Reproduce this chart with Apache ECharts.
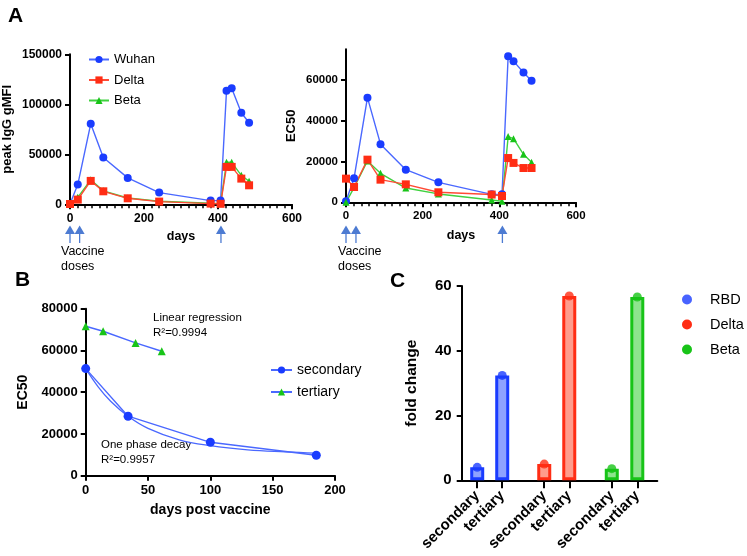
<!DOCTYPE html>
<html>
<head>
<meta charset="utf-8">
<script src="https://cdn.jsdelivr.net/npm/echarts@6/dist/echarts.min.js"></script>
<style>html,body{margin:0;padding:0;background:#fff}#c{width:747px;height:556px}</style>
</head>
<body>
<div id="c"></div>
<script>
// ---------- data ----------
const days = [0, 21, 56, 90, 156, 241, 380, 407, 423, 437, 463, 484];
const iggWuhan = [300, 19700, 80500, 46800, 26400, 11700, 3700, 3700, 113600, 116000, 91500, 81500];
const iggDelta = [300, 4700, 23400, 13000, 6000, 2700, 700, 500, 37400, 37400, 25700, 19000];
const iggBeta  = [300, 7000, 24500, 13500, 6300, 3000, 1000, 700, 42000, 42000, 29000, 23000];
const ecWuhan  = [500, 11800, 51300, 28500, 16000, 9800, 3900, 3900, 71600, 69200, 63600, 59600];
const ecDelta  = [11600, 7500, 20900, 11100, 8800, 4900, 3800, 3100, 21700, 19300, 16800, 16800];
const ecBeta   = [0, 7200, 20300, 14200, 7000, 4100, 1100, 500, 32200, 31200, 23500, 19600];
const vaccineDays = [0, 26, 408];

const secDays = [0, 34, 100, 185];
const secEC50 = [51300, 28500, 16000, 9800];
const terDays = [0, 14, 40, 61];
const terEC50 = [71600, 69200, 63600, 59600];
// one phase decay fit curve
const fitDays = [0, 10, 20, 34, 50, 75, 100, 130, 160, 185];
const fitEC50 = [51300, 42600, 35700, 28500, 22700, 17200, 14400, 12400, 11400, 10800];

const cVariants = ['RBD', 'Delta', 'Beta'];
const cLabels = ['secondary', 'tertiary', 'secondary', 'tertiary', 'secondary', 'tertiary'];
const cSecondary = [4.0, 5.0, 3.6];
const cTertiary = [32.4, 56.9, 56.6];
const cPos = [0.62, 1.62, 3.3, 4.3, 6.0, 7.02];

// ---------- styling ----------
const BLUE = '#1a3cff', BLUE_L = '#4a68ff', RED = '#ff2d14', RED_L = '#ff4a35', GREEN = '#18c418', GREEN_L = '#3fd13f';
const FILL = ['#8ea2ff', '#ff9c8c', '#8ee48e'];
const STROKE = [BLUE, RED, GREEN];
const ARROW = '#4d7bd2';
const FF = 'Liberation Sans, Arial, sans-serif';

function axisBase(fs) {
  return {
    axisLine: { show: true, onZero: false, lineStyle: { color: '#000', width: 2 } },
    axisTick: { show: true, length: 5, lineStyle: { color: '#000', width: 2 } },
    splitLine: { show: false },
    axisLabel: { color: '#000', fontWeight: 'bold', fontSize: fs, fontFamily: FF, margin: 8, formatter: v => String(v) },
    nameTextStyle: { color: '#000', fontWeight: 'bold', fontFamily: FF }
  };
}
function mkAxis(grid, min, max, interval, fs, name, nameSize, nameGap, extra) {
  const a = axisBase(fs);
  return Object.assign(a, {
    type: 'value', gridIndex: grid, min, max, interval,
    name, nameLocation: 'middle', nameGap,
    nameTextStyle: Object.assign(a.nameTextStyle, { fontSize: nameSize })
  }, extra || {});
}
const minorA = { minorTick: { show: true, splitNumber: 10, length: 4, lineStyle: { color: '#000', width: 1.5 } } };

function zip(xs, ys) { return xs.map((x, i) => [x, ys[i]]); }
function lineS(name, xi, xs, ys, symbol, size, col, lcol) {
  return {
    type: 'line', name, xAxisIndex: xi, yAxisIndex: xi, data: zip(xs, ys),
    symbol, symbolSize: size, showSymbol: true,
    itemStyle: { color: col }, lineStyle: { color: lcol, width: 1.4 }, z: 3
  };
}

const chart = echarts.init(document.getElementById('c'), null, { renderer: 'canvas' });

const option = {
  animation: false,
  backgroundColor: '#fff',
  title: [
    { text: 'A', left: 3, top: 1, textStyle: { fontSize: 21, fontWeight: 'bold', fontFamily: FF, color: '#000' } },
    { text: 'B', left: 10, top: 265, textStyle: { fontSize: 21, fontWeight: 'bold', fontFamily: FF, color: '#000' } },
    { text: 'C', left: 385, top: 266, textStyle: { fontSize: 21, fontWeight: 'bold', fontFamily: FF, color: '#000' } }
  ],
  grid: [
    { left: 68, top: 54.3, width: 224, height: 150 },
    { left: 346, top: 49.3, width: 230, height: 153 },
    { left: 85.7, top: 308.7, width: 249.3, height: 167 },
    { left: 461.7, top: 286, width: 195.6, height: 194.3 }
  ],
  xAxis: [
    mkAxis(0, 0, 600, 200, 12, 'days', 12.5, 26, minorA),
    mkAxis(1, 0, 600, 200, 11.5, 'days', 12.5, 27, minorA),
    mkAxis(2, 0, 200, 50, 13, 'days post vaccine', 14, 27),
    Object.assign(mkAxis(3, 0, 7.82, 1, 15, '', 12, 20), {
      axisTick: { show: true, length: 8, customValues: cPos, lineStyle: { color: '#000', width: 2 } },
      axisLabel: {
        color: '#000', fontWeight: 'bold', fontSize: 15, fontFamily: FF, rotate: 45, margin: 13,
        customValues: cPos, formatter: v => cLabels[cPos.indexOf(v)] || ''
      }
    })
  ],
  yAxis: [
    mkAxis(0, 0, 150000, 50000, 12, 'peak IgG gMFI', 13, 56),
    Object.assign(mkAxis(1, 0, 75000, 20000, 11.5, 'EC50', 13, 48), {
      axisTick: { show: true, length: 5, customValues: [0, 20000, 40000, 60000], lineStyle: { color: '#000', width: 2 } },
      axisLabel: { color: '#000', fontWeight: 'bold', fontSize: 11.5, fontFamily: FF, margin: 8, customValues: [0, 20000, 40000, 60000], formatter: v => String(v) }
    }),
    mkAxis(2, 0, 80000, 20000, 13, 'EC50', 14, 56),
    Object.assign(mkAxis(3, 0, 60, 20, 15, 'fold change', 15.5, 42), {
      axisLabel: { color: '#000', fontWeight: 'bold', fontSize: 15, fontFamily: FF, margin: 10, formatter: v => String(v) }
    })
  ],
  legend: [
    {
      data: ['Wuhan', 'Delta', 'Beta'], orient: 'vertical', left: 83, top: 48, itemGap: 7.5,
      itemWidth: 20, itemHeight: 9, textStyle: { fontSize: 13, fontFamily: FF, color: '#000' }, selectedMode: false
    },
    {
      data: ['secondary', 'tertiary'], orient: 'vertical', left: 265, top: 358, itemGap: 8,
      itemWidth: 21, itemHeight: 9, textStyle: { fontSize: 14, fontFamily: FF, color: '#000' }, selectedMode: false
    },
    {
      data: cVariants.map((n, i) => ({ name: n, icon: 'circle', itemStyle: { color: STROKE[i] } })),
      orient: 'vertical', left: 677, top: 287, itemGap: 10,
      itemWidth: 22, itemHeight: 10, textStyle: { fontSize: 14.5, fontFamily: FF, color: '#000', padding: [0, 0, 0, 7] }, selectedMode: false
    }
  ],
  series: [
    lineS('Wuhan', 0, days, iggWuhan, 'circle', 8, BLUE, BLUE_L),
    lineS('Beta', 0, days, iggBeta, 'triangle', 7, GREEN, GREEN_L),
    lineS('Delta', 0, days, iggDelta, 'rect', 8, RED, RED_L),
    lineS('Wuhan', 1, days, ecWuhan, 'circle', 8, BLUE, BLUE_L),
    lineS('Beta', 1, days, ecBeta, 'triangle', 7, GREEN, GREEN_L),
    lineS('Delta', 1, days, ecDelta, 'rect', 8, RED, RED_L),
    {
      type: 'line', name: 'fit', xAxisIndex: 2, yAxisIndex: 2, data: zip(fitDays, fitEC50),
      smooth: 0.4, showSymbol: false, symbol: 'none', lineStyle: { color: BLUE_L, width: 1.3 }, z: 2
    },
    lineS('secondary', 2, secDays, secEC50, 'circle', 9, BLUE, BLUE_L),
    lineS('tertiary', 2, terDays, terEC50, 'triangle', 8, GREEN, BLUE_L),
    {
      type: 'bar', name: 'bars', xAxisIndex: 3, yAxisIndex: 3, barWidth: 14,
      data: cVariants.flatMap((n, i) => [
        { value: [cPos[2 * i], cSecondary[i]], itemStyle: { color: FILL[i], borderColor: STROKE[i], borderWidth: 3 } },
        { value: [cPos[2 * i + 1], cTertiary[i]], itemStyle: { color: FILL[i], borderColor: STROKE[i], borderWidth: 3 } }
      ])
    },
    ...cVariants.map((n, i) => ({
      type: 'scatter', name: n, xAxisIndex: 3, yAxisIndex: 3, symbol: 'circle', symbolSize: 9,
      itemStyle: { color: STROKE[i] }, z: 5,
      data: [[cPos[2 * i], cSecondary[i]], [cPos[2 * i + 1], cTertiary[i]]]
    }))
  ]
};
chart.setOption(option);

// ---------- annotations placed via the axes ----------
const graphics = [];
[0, 1].forEach(gi => {
  vaccineDays.forEach(d => {
    const x = chart.convertToPixel({ xAxisIndex: gi }, d);
    graphics.push({ type: 'polygon', shape: { points: [[x, 225.5], [x - 5, 234], [x + 5, 234]] }, style: { fill: ARROW } });
    graphics.push({ type: 'line', shape: { x1: x, y1: 233, x2: x, y2: 243 }, style: { stroke: ARROW, lineWidth: 1.3 } });
  });
});
graphics.push({ type: 'text', left: 61, top: 244, style: { text: 'Vaccine\ndoses', fontSize: 12.5, lineHeight: 15, fontFamily: FF, fill: '#000' } });
graphics.push({ type: 'text', left: 338, top: 244, style: { text: 'Vaccine\ndoses', fontSize: 12.5, lineHeight: 15, fontFamily: FF, fill: '#000' } });
graphics.push({ type: 'text', left: 153, top: 310, style: { text: 'Linear regression\nR\u00b2=0.9994', fontSize: 11.5, lineHeight: 15.5, fontFamily: FF, fill: '#000' } });
graphics.push({ type: 'text', left: 101, top: 437, style: { text: 'One phase decay\nR\u00b2=0.9957', fontSize: 11.5, lineHeight: 15.5, fontFamily: FF, fill: '#000' } });
chart.setOption({ graphic: graphics });
</script>
</body>
</html>
